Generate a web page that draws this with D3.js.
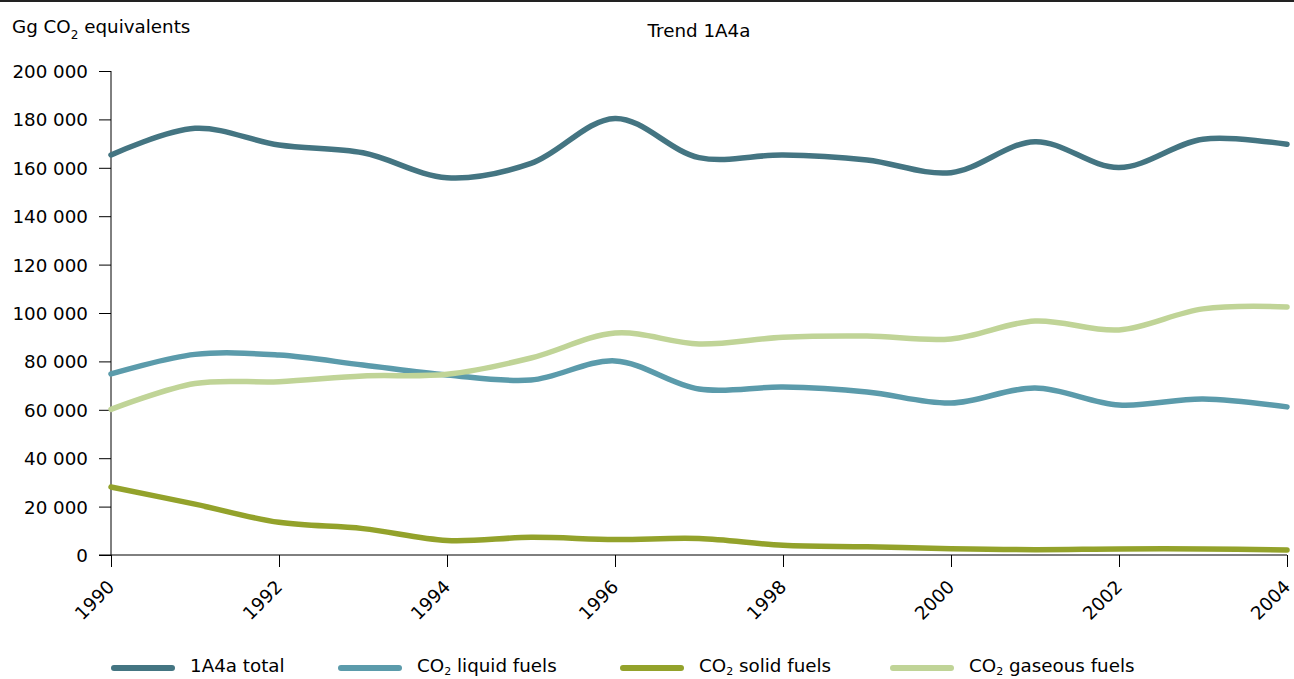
<!DOCTYPE html>
<html><head><meta charset="utf-8">
<script src="https://cdn.jsdelivr.net/npm/d3@7"></script>
<style>
body{margin:0;background:#fff;}
text{font-family:"DejaVu Sans",Verdana,sans-serif;fill:#000;}
</style></head>
<body><svg id="c" width="1294" height="679"></svg>
<script>
const years = [1990,1991,1992,1993,1994,1995,1996,1997,1998,1999,2000,2001,2002,2003,2004];
const total   = [165300,176300,169400,166200,155900,161800,180400,164200,165300,163200,158000,170800,160100,171800,169700];
const liquid  = [74800,82900,82600,78500,74400,72300,80200,68600,69400,67400,62800,69000,62000,64500,61200];
const solid   = [28100,21000,13500,10900,6000,7300,6400,6800,4000,3400,2600,2200,2500,2500,2100];
const gaseous = [60200,70900,71600,74000,74700,81400,91700,87200,90000,90500,89300,96700,93000,101700,102500];
const yTicks = [0,20000,40000,60000,80000,100000,120000,140000,160000,180000,200000];
const xTicks = [1990,1992,1994,1996,1998,2000,2002,2004];
const seriesNames = ["1A4a total","CO2 liquid fuels","CO2 solid fuels","CO2 gaseous fuels"];
const colors = ["#447582","#5b9bab","#93a22b","#c0d497"];

const svg = d3.select("#c");
const x = d3.scaleLinear().domain([1990,2004]).range([111,1287]);
const y = d3.scaleLinear().domain([0,200000]).range([555,71]);
const fmt = v => d3.format(",")(v).replace(/,/g," ");
const FS = "18.3px";

svg.append("line").attr("x1",0).attr("x2",1294).attr("y1",1).attr("y2",1).attr("stroke","#222").attr("stroke-width",2);

// y axis
const ya = svg.append("g").attr("transform","translate(111,0)")
  .call(d3.axisLeft(y).tickValues(yTicks).tickSize(12).tickPadding(11).tickFormat(fmt));
ya.select(".domain").attr("d","M0,71V555").attr("stroke","#000");
ya.selectAll("text").style("font-size",FS).attr("dy","0.35em");
// x axis
const xa = svg.append("g").attr("transform","translate(0,555)")
  .call(d3.axisBottom(x).tickValues(xTicks).tickSize(12).tickFormat(d3.format("d")));
xa.select(".domain").attr("d","M99,0H1287").attr("stroke","#000");
xa.selectAll("text").style("font-size",FS)
  .attr("text-anchor","end").attr("x",0).attr("y",0).attr("dx","0").attr("dy","0")
  .attr("transform","translate(4,33) rotate(-45)");

// title & unit
svg.append("text").attr("x",699).attr("y",37).attr("text-anchor","middle").style("font-size",FS).text("Trend 1A4a");
const u = svg.append("text").attr("x",12).attr("y",33).style("font-size",FS);
u.append("tspan").text("Gg CO");
u.append("tspan").attr("dy",6).style("font-size","12px").text("2");
u.append("tspan").attr("dy",-6).text(" equivalents");

const data = [total, liquid, solid, gaseous];
const line = d3.line().x((d,i)=>x(years[i])).y(d=>y(d)).curve(d3.curveCatmullRom.alpha(0.5));
[2,1,3,0].forEach(k=>{
  svg.append("path").attr("d",line(data[k])).attr("fill","none")
    .attr("stroke",colors[k]).attr("stroke-width",5.5).attr("stroke-linecap","round").attr("stroke-linejoin","round");
});

// legend
const lx = [111,338,620,890];
seriesNames.forEach((n,k)=>{
  svg.append("line").attr("x1",lx[k]+3).attr("x2",lx[k]+61).attr("y1",668).attr("y2",668)
    .attr("stroke",colors[k]).attr("stroke-width",6).attr("stroke-linecap","round");
  const t = svg.append("text").attr("x",lx[k]+79).attr("y",672).style("font-size",FS);
  if(n.startsWith("CO2")){
    t.append("tspan").text("CO");
    t.append("tspan").attr("dy",3).style("font-size","11px").text("2");
    t.append("tspan").attr("dy",-3).text(n.slice(3));
  } else t.text(n);
});
</script></body></html>
